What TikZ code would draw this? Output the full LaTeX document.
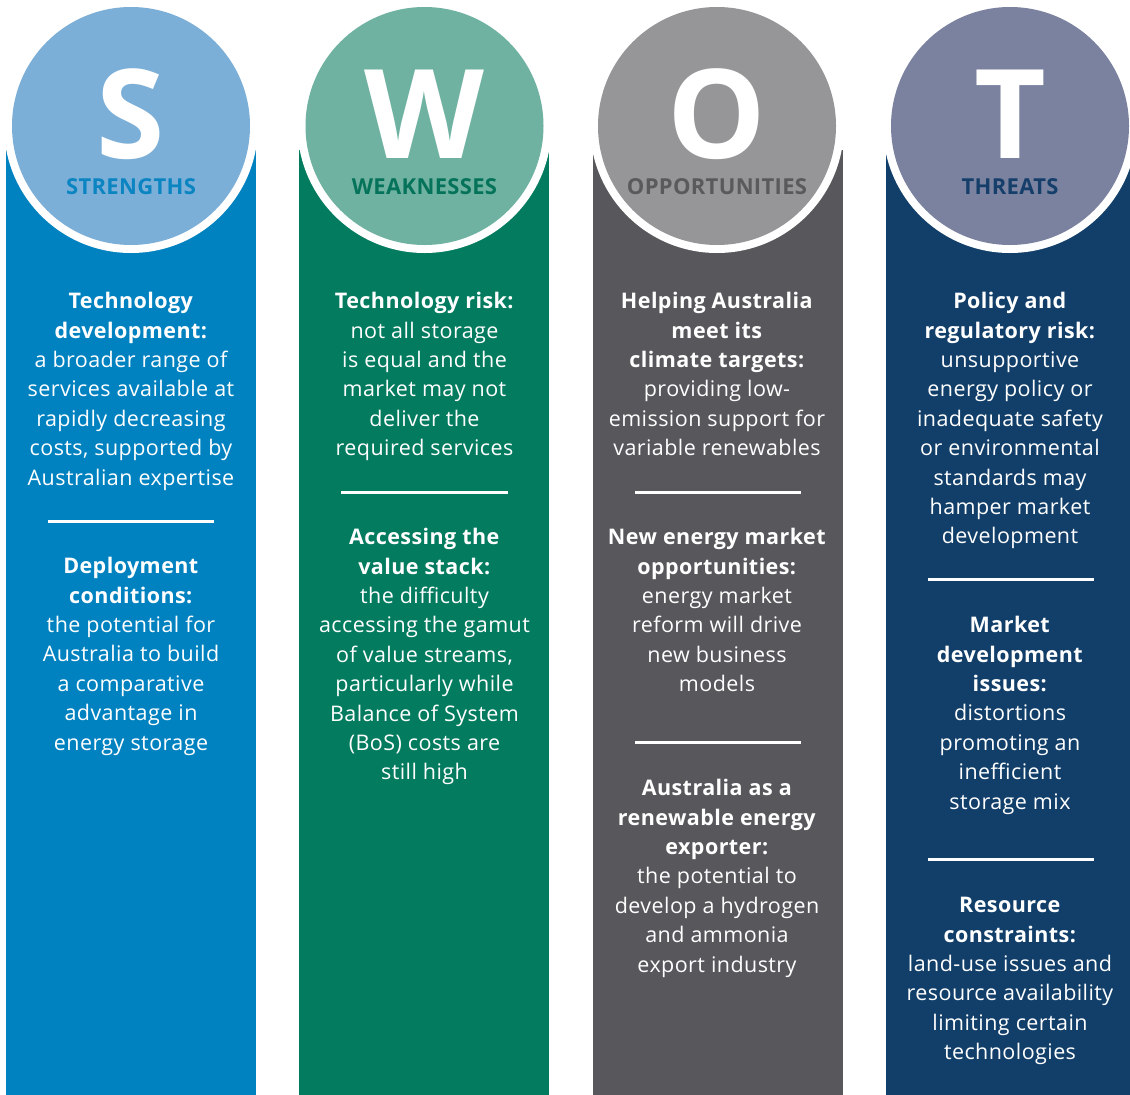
\documentclass[tikz,border=0pt]{standalone}
\usepackage{fontspec}
\setmainfont{Open Sans}[LetterSpace=2]
\newfontfamily\swotletterfont{Open Sans}[UprightFont=* Bold]
\newfontfamily\swotlabelfont{Open Sans}[UprightFont=* Bold, LetterSpace=1.5]
\definecolor{sCol}{HTML}{0082C0}
\definecolor{sCirc}{HTML}{7BAFD7}
\definecolor{sLab}{HTML}{0B84C2}
\definecolor{wCol}{HTML}{037B5F}
\definecolor{wCirc}{HTML}{6FB2A1}
\definecolor{wLab}{HTML}{05735A}
\definecolor{oCol}{HTML}{58575C}
\definecolor{oCirc}{HTML}{969598}
\definecolor{oLab}{HTML}{5A595C}
\definecolor{tCol}{HTML}{123F69}
\definecolor{tCirc}{HTML}{7B829F}
\definecolor{tLab}{HTML}{153F6A}
\newcommand\swotbody{\fontsize{21.5}{29.4}\selectfont}
\tikzset{
  body/.style={text=white, align=center, anchor=north, inner sep=0pt, font=\swotbody},
  bigletter/.style={text=white, inner sep=0pt, anchor=base, text height=89pt, text depth=0pt,
    font=\swotletterfont\fontsize{124}{124}\selectfont},
  collabel/.style={inner sep=0pt, anchor=base, text height=16pt, text depth=0pt,
    font=\swotlabelfont\fontsize{22}{22}\selectfont},
  sepline/.style={draw=white, line width=3pt},
  ring/.style={fill=white},
}
\begin{document}
\begin{tikzpicture}[x=1pt,y=-1pt]
\useasboundingbox (0,0) rectangle (1130,1095);
% columns
\fill[sCol] (6,150) rectangle (256,1095);
\fill[wCol] (299,150) rectangle (549,1095);
\fill[oCol] (593,150) rectangle (843,1095);
\fill[tCol] (886,150) rectangle (1136,1095);
% circles
\foreach \cx/\cc in {131/sCirc,424.5/wCirc,717/oCirc,1010/tCirc}{
  \fill[ring] (\cx,126) circle (127);
  \fill[\cc] (\cx,126) circle (119);
}
% letters
\node[bigletter] (sL) at (131,158) {S};
\node[bigletter] (wL) at (424.5,158) {W};
\node[bigletter] (oL) at (717,158) {O};
\node[bigletter] (tL) at (1010,158) {T};
\node[collabel, text=sLab] (sT) at (131,194) {STRENGTHS};
\node[collabel, text=wLab] (wT) at (424.5,194) {WEAKNESSES};
\node[collabel, text=oLab] (oT) at (717,194) {OPPORTUNITIES};
\node[collabel, text=tLab] (tT) at (1010,194) {THREATS};
% S column
\node[body] (s1) at (131,288) {\strut\textbf{Technology}\\\textbf{development:}\\a broader range of\\services available at\\rapidly decreasing\\costs, supported by\\Australian expertise};
\draw[sepline] (48,521) -- (214,521);
\node[body] (s2) at (131,553) {\strut\textbf{Deployment}\\\textbf{conditions:}\\the potential for\\Australia to build\\a comparative\\advantage in\\energy storage};
% W column
\node[body] (w1) at (424.5,288) {\strut\textbf{Technology risk:}\\not all storage\\is equal and the\\market may not\\deliver the\\required services};
\draw[sepline] (341,492) -- (508,492);
\node[body] (w2) at (424.5,524) {\strut\textbf{Accessing the}\\\textbf{value stack:}\\the difficulty\\accessing the gamut\\of value streams,\\particularly while\\Balance of System\\(BoS) costs are\\still high};
% O column
\node[body] (o1) at (717,288) {\strut\textbf{Helping Australia}\\\textbf{meet its}\\\textbf{climate targets:}\\providing low-\\emission support for\\variable renewables};
\draw[sepline] (635,492) -- (801,492);
\node[body] (o2) at (717,524) {\strut\textbf{New energy market}\\\textbf{opportunities:}\\energy market\\reform will drive\\new business\\models};
\draw[sepline] (635,742) -- (801,742);
\node[body] (o3) at (717,775) {\strut\textbf{Australia as a}\\\textbf{renewable energy}\\\textbf{exporter:}\\the potential to\\develop a hydrogen\\and ammonia\\export industry};
% T column
\node[body] (t1) at (1010,288) {\strut\textbf{Policy and}\\\textbf{regulatory risk:}\\unsupportive\\energy policy or\\inadequate safety\\or environmental\\standards may\\hamper market\\development};
\draw[sepline] (928,579) -- (1094,579);
\node[body] (t2) at (1010,612) {\strut\textbf{Market}\\\textbf{development}\\\textbf{issues:}\\distortions\\promoting an\\inefficient\\storage mix};
\draw[sepline] (928,859) -- (1094,859);
\node[body] (t3) at (1010,892) {\strut\textbf{Resource}\\\textbf{constraints:}\\land-use issues and\\resource availability\\limiting certain\\technologies};
\end{tikzpicture}
\end{document}
